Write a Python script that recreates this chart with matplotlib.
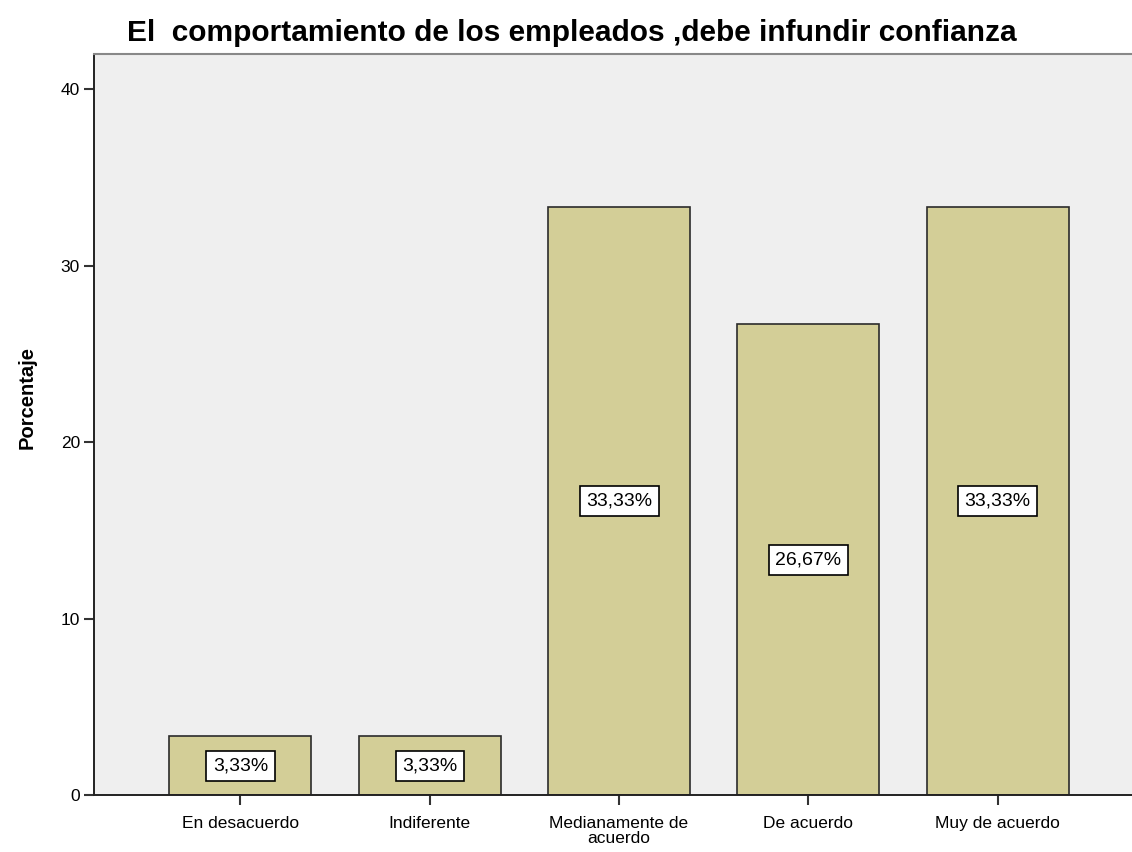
import matplotlib
matplotlib.use('Agg')
import matplotlib.pyplot as plt

categorias = ['En desacuerdo', 'Indiferente', 'Medianamente de\nacuerdo', 'De acuerdo', 'Muy de acuerdo']
porcentajes = [3.33, 3.33, 33.33, 26.67, 33.33]
etiquetas = ['3,33%', '3,33%', '33,33%', '26,67%', '33,33%']
yticks = [0, 10, 20, 30, 40]

plt.rcParams['font.family'] = ['Liberation Sans', 'DejaVu Sans']

fig = plt.figure(figsize=(11.32, 8.52), dpi=100)
ax = fig.add_axes([0.083, 0.0669, 0.917, 0.8697])
ax.set_facecolor('#efefef')

x = list(range(len(categorias)))
ax.bar(x, porcentajes, width=0.75, color='#d3ce97', edgecolor='#2b2b2b', linewidth=1.2, zorder=2)
for xi, v, t in zip(x, porcentajes, etiquetas):
    ax.text(xi, v / 2, t, ha='center', va='center', fontsize=14, zorder=3,
            bbox=dict(boxstyle='square,pad=0.33', facecolor='white', edgecolor='black', linewidth=1.2))

ax.set_xlim(-0.774, 4.71)
ax.set_ylim(0, 42)
ax.set_xticks(x)
ax.set_xticklabels(categorias, fontsize=12.5, linespacing=1.05)
ax.set_yticks(yticks)
ax.set_yticklabels([str(t) for t in yticks], fontsize=12.5)
ax.tick_params(axis='x', length=7, width=1.5, color='#333333', pad=8)
ax.tick_params(axis='y', length=7, width=1.5, color='#333333', pad=3)
ax.set_ylabel('Porcentaje', fontsize=14.5, fontweight='bold')
ax.yaxis.label.set_va('center')
ax.yaxis.set_label_coords(-0.0645, 0.536)

ax.spines['right'].set_visible(False)
ax.spines['top'].set_color('#888888')
ax.spines['top'].set_linewidth(1.5)
ax.spines['left'].set_color('#222222')
ax.spines['bottom'].set_color('#222222')
ax.spines['left'].set_linewidth(1.4)
ax.spines['bottom'].set_linewidth(1.4)

fig.text(0.112, 0.952, 'El  comportamiento de los empleados ,debe infundir confianza',
         fontsize=21.5, fontweight='bold', ha='left', va='baseline')

fig.savefig('out.png', dpi=100)
